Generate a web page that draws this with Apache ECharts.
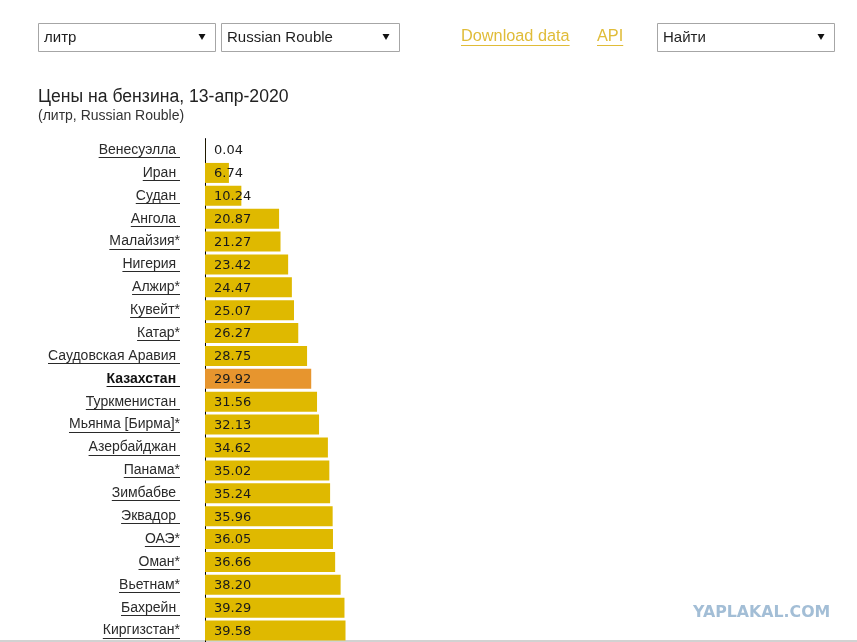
<!DOCTYPE html>
<html><head><meta charset="utf-8">
<script src="https://cdn.jsdelivr.net/npm/echarts@6/dist/echarts.min.js"></script>
<style>html,body{margin:0;padding:0;background:#fff}#c{width:857px;height:642px}</style>
</head><body><div id="c"></div>
<script>
const countries = ['Венесуэлла ', 'Иран ', 'Судан ', 'Ангола ', 'Малайзия*', 'Нигерия ', 'Алжир*', 'Кувейт*', 'Катар*',
  'Саудовская Аравия ', 'Казахстан ', 'Туркменистан ', 'Мьянма [Бирма]*', 'Азербайджан ', 'Панама*', 'Зимбабве ',
  'Эквадор ', 'ОАЭ*', 'Оман*', 'Вьетнам*', 'Бахрейн ', 'Киргизстан*'];
const prices = [0.04, 6.74, 10.24, 20.87, 21.27, 23.42, 24.47, 25.07, 26.27, 28.75, 29.92, 31.56, 32.13, 34.62,
  35.02, 35.24, 35.96, 36.05, 36.66, 38.20, 39.29, 39.58];
const highlighted = 'Казахстан ';
const chartTitle = 'Цены на бензина, 13-апр-2020';
const chartSubtitle = '(литр, Russian Rouble)';
const selectTexts = ['литр', 'Russian Rouble', 'Найти'];
const linkTexts = ['Download data', 'API'];
const watermark = 'YAPLAKAL.COM';

const FONT = '"Liberation Sans", Arial, sans-serif';
const VFONT = '"DejaVu Sans", Verdana, sans-serif';
const BAR = '#DFB900';
const BAR_HI = '#E7952E';
const GOLD_LINK = '#E0BC38';

const chart = echarts.init(document.getElementById('c'), null, {renderer: 'canvas'});

const measure = (txt, font) => {
  const c = document.createElement('canvas').getContext('2d');
  c.font = font;
  return c.measureText(txt).width;
};

function staticGraphics() {
  const g = [];
  const boxes = [[38, 177], [221, 178], [657, 177]];
  boxes.forEach((b, i) => {
    g.push({type: 'rect', shape: {x: b[0] + 0.5, y: 23.5, width: b[1], height: 28},
      style: {fill: '#fff', stroke: '#a6a6a6', lineWidth: 1}, silent: true});
    g.push({type: 'text', x: b[0] + 6, y: 38,
      style: {text: selectTexts[i], font: '15px ' + FONT, fill: '#1e1e1e', textVerticalAlign: 'middle'}});
    const ax = b[0] + b[1] - 13;
    g.push({type: 'polygon', shape: {points: [[ax - 3.5, 34], [ax + 3.5, 34], [ax, 40]]},
      style: {fill: '#111'}});
  });
  const linkX = [461, 597];
  linkTexts.forEach((t, i) => {
    g.push({type: 'text', x: linkX[i], y: 37,
      style: {text: t, font: '16.3px ' + FONT, fill: GOLD_LINK, textVerticalAlign: 'middle'}});
    const w = measure(t, '16.3px ' + FONT);
    g.push({type: 'line', shape: {x1: linkX[i], y1: 45.5, x2: linkX[i] + w, y2: 45.5},
      style: {stroke: GOLD_LINK, lineWidth: 1}});
  });
  g.push({type: 'text', x: 693, y: 612.5,
    style: {text: watermark, font: 'bold 15.8px "DejaVu Sans", sans-serif', fill: '#A3BED6', textVerticalAlign: 'middle'}});
  g.push({type: 'line', shape: {x1: 0, y1: 641, x2: 857, y2: 641}, style: {stroke: '#d2d2d2', lineWidth: 2}});
  return g;
}

const option = {
  animation: false,
  backgroundColor: '#fff',
  title: {
    text: chartTitle, subtext: chartSubtitle, left: 38, top: 88, itemGap: 3, padding: 0,
    textStyle: {fontFamily: FONT, fontSize: 17.6, fontWeight: 'normal', color: '#222', lineHeight: 18},
    subtextStyle: {fontFamily: FONT, fontSize: 14, color: '#333', lineHeight: 14}
  },
  grid: {left: 205, top: 138.6, width: 355, height: 508.6, containLabel: false},
  xAxis: {type: 'value', min: 0, max: 100, show: false},
  yAxis: {
    type: 'category', data: countries, inverse: true,
    axisLine: {show: true, lineStyle: {color: '#000', width: 1}},
    axisTick: {show: false},
    axisLabel: {
      margin: 25, fontFamily: FONT, fontSize: 14, color: '#2a2a2a',
      formatter: v => v === highlighted ? '{b|' + v + '}' : v,
      rich: {b: {fontFamily: FONT, fontSize: 14, fontWeight: 'bold', color: '#111'}}
    }
  },
  series: [{
    type: 'bar', barWidth: 20,
    data: prices.map((p, i) => countries[i] === highlighted ? {value: p, itemStyle: {color: BAR_HI}} : p),
    itemStyle: {color: BAR},
    label: {show: true, position: 'insideLeft', distance: 9, offset: [0, 1], fontFamily: VFONT, fontSize: 13,
      color: '#1a1a1a', formatter: p => p.value.toFixed(2)}
  }],
  graphic: staticGraphics()
};
chart.setOption(option);

// underlines under category labels (positions derived from axis)
const g = staticGraphics();
countries.forEach((name, i) => {
  const y = chart.convertToPixel({yAxisIndex: 0}, i);
  const xr = chart.convertToPixel({xAxisIndex: 0}, 0) - 25;
  const font = (name === highlighted ? 'bold ' : '') + '14px ' + FONT;
  const w = measure(name, font);
  const yy = Math.round(y + 7) + 0.5;
  g.push({type: 'line', shape: {x1: xr - w, y1: yy, x2: xr, y2: yy},
    style: {stroke: name === highlighted ? '#111' : '#2a2a2a', lineWidth: 1}});
});
chart.setOption({graphic: g}, {replaceMerge: ['graphic']});
</script>
</body></html>
